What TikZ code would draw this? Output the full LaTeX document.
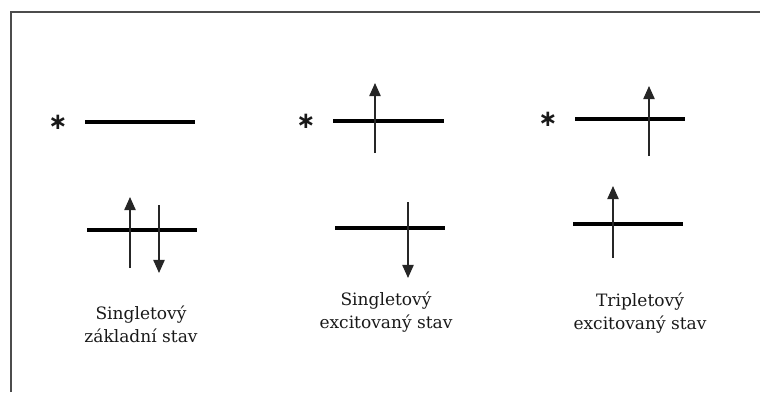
\documentclass[tikz,border=0pt]{standalone}
\usepackage{fontspec}
\setmainfont{DejaVu Serif}
\newfontfamily\starfont{DejaVu Sans}
\usetikzlibrary{arrows.meta}

\begin{document}
\begin{tikzpicture}[x=0.02cm,y=-0.02cm,>={Triangle[length=7.5pt,width=6.5pt]},
                   level/.style={line width=1.9pt},
                   spin/.style={->,line width=0.8pt,draw=black!85},
                   star/.style={inner sep=0pt,font=\starfont\bfseries\fontsize{13}{13}\selectfont},
                   every node/.style={font=\fontsize{9.7}{13}\selectfont,text=black!90}]
\useasboundingbox (0,0) rectangle (760,392);
\draw[line width=1.3pt,black!70] (11,392) -- (11,12) -- (760,12);
% energy levels: name / upper left, right, y / lower left, y
\foreach \n/\ua/\ub/\uy/\la/\ly in {g/85/195/122/87/230, s/333/444/121/335/228, t/575/685/119/573/224}{
  \coordinate (\n UL) at (\ua,\uy);
  \coordinate (\n UR) at (\ub,\uy);
  \coordinate (\n LL) at (\la,\ly);
  \coordinate (\n LR) at (\la+110,\ly);
  \draw[level] (\n UL) -- (\n UR);
  \draw[level] (\n LL) -- (\n LR);
  \node[star] (\n star) at (\ua-27,\uy) {∗};
}
% spins
\coordinate (g1) at (130,268); \coordinate (g1e) at (130,197);
\coordinate (g2) at (159,205); \coordinate (g2e) at (159,273);
\coordinate (s1) at (375,153); \coordinate (s1e) at (375,83);
\coordinate (s2) at (408,202); \coordinate (s2e) at (408,278);
\coordinate (t1) at (649,156); \coordinate (t1e) at (649,86);
\coordinate (t2) at (613,258); \coordinate (t2e) at (613,186);
\foreach \s in {g1,g2,s1,s2,t1,t2}{
  \draw[spin] (\s) -- (\s e);
}
\node[align=center] (lg) at (141,324) {Singletový\\základní stav};
\node[align=center] (ls) at (386,312) {Singletový\\excitovaný stav};
\node[align=center] (lt) at (640,313) {Tripletový\\excitovaný stav};
\end{tikzpicture}
\end{document}
